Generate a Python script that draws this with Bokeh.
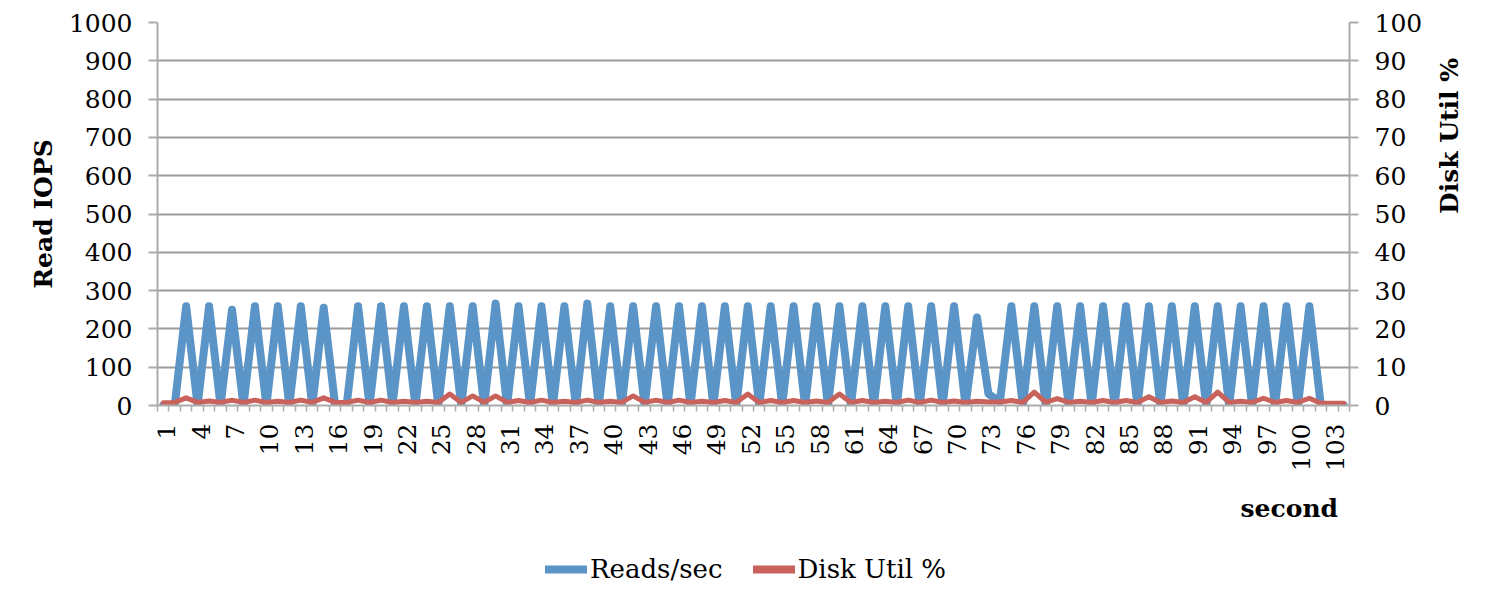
import math
from bokeh.plotting import figure
from bokeh.layouts import column
from bokeh.core.properties import value
from bokeh.models import (Range1d, LinearAxis, FixedTicker, Legend, LegendItem)
from bokeh.embed import file_html
from bokeh.resources import INLINE

seconds = list(range(1, 105))

reads_per_sec = [
    0, 0, 259, 0, 259, 0, 250, 0, 259, 0,          # 1-10
    259, 0, 259, 0, 255, 0, 0, 259, 0, 259,        # 11-20
    0, 259, 0, 259, 0, 259, 0, 259, 0, 266,        # 21-30
    0, 259, 0, 259, 0, 259, 0, 266, 0, 259,        # 31-40
    0, 259, 0, 259, 0, 259, 0, 259, 0, 259,        # 41-50
    0, 259, 0, 259, 0, 259, 0, 259, 0, 259,        # 51-60
    0, 259, 0, 259, 0, 259, 0, 259, 0, 259,        # 61-70
    0, 230, 30, 10, 259, 0, 259, 0, 259, 0,        # 71-80
    259, 0, 259, 0, 259, 0, 259, 0, 259, 0,        # 81-90
    259, 0, 259, 0, 259, 0, 259, 0, 259, 0,        # 91-100
    259, 0, 0, 0,                                  # 101-104
]

disk_util_pct = [
    0.7, 0.8, 2.0, 0.8, 1.2, 0.8, 1.4, 0.8, 1.4, 0.8,   # 1-10
    1.1, 0.8, 1.4, 0.8, 2.0, 0.8, 0.8, 1.4, 0.8, 1.4,   # 11-20
    0.8, 1.1, 0.8, 1.1, 0.8, 3.0, 0.8, 2.5, 0.8, 2.5,   # 21-30
    0.8, 1.3, 0.8, 1.4, 0.8, 1.1, 0.8, 1.4, 0.8, 1.1,   # 31-40
    0.8, 2.5, 0.8, 1.4, 0.8, 1.4, 0.8, 1.1, 0.8, 1.3,   # 41-50
    0.8, 3.0, 0.8, 1.3, 0.8, 1.3, 0.8, 1.2, 0.8, 3.0,   # 51-60
    0.8, 1.3, 0.8, 1.1, 0.8, 1.4, 0.8, 1.4, 0.8, 1.2,   # 61-70
    0.8, 1.1, 0.9, 0.9, 1.3, 0.8, 3.5, 0.8, 1.8, 0.8,   # 71-80
    1.1, 0.8, 1.3, 0.8, 1.3, 0.8, 2.3, 0.8, 1.2, 0.8,   # 81-90
    2.3, 0.8, 3.5, 0.8, 1.1, 0.8, 1.9, 0.8, 1.3, 0.8,   # 91-100
    1.9, 0.6, 0.6, 0.6,                                 # 101-104
]

x_tick_labels = list(range(1, 104, 3))
x_boundaries = [s - 0.5 for s in seconds] + [seconds[-1] + 0.5]
iops_ticks = list(range(0, 1001, 100))
util_ticks = list(range(0, 101, 10))

BLUE = "#5B94C7"
RED = "#C9625A"
GRID = "#9C9C9C"
AXIS = "#ABABAB"
FONT = "DejaVu Serif"

W = 1481
LEFT, RIGHT = 157, 131
FRAME_TOP, FRAME_BOTTOM = 22, 405
MAIN_H, STRIP_H, LEG_H = 421, 109, 54
STRIP_BOTTOM = MAIN_H + STRIP_H

x_range = Range1d(0.5, 104.5)

# ---------------- main chart ----------------
p = figure(width=W, height=MAIN_H, output_backend="svg", toolbar_location=None,
           x_range=x_range, y_range=Range1d(0, 1000),
           min_border_left=LEFT, min_border_right=RIGHT, min_border_top=FRAME_TOP,
           min_border_bottom=MAIN_H - FRAME_BOTTOM)
p.outline_line_color = None
p.background_fill_color = "white"

p.extra_y_ranges = {"util": Range1d(0, 100)}
right_axis = LinearAxis(y_range_name="util", ticker=FixedTicker(ticks=util_ticks))
p.add_layout(right_axis, "right")

p.xgrid.visible = False
p.ygrid.ticker = FixedTicker(ticks=iops_ticks)
p.ygrid.grid_line_color = GRID
p.ygrid.grid_line_width = 2

p.yaxis[0].ticker = FixedTicker(ticks=iops_ticks)
p.xaxis[0].ticker = FixedTicker(ticks=x_tick_labels, minor_ticks=x_boundaries)

for ax in [p.yaxis[0], right_axis]:
    ax.axis_line_color = AXIS
    ax.axis_line_width = 2
    ax.major_tick_line_color = AXIS
    ax.major_tick_line_width = 2
    ax.major_tick_out = 9
    ax.major_tick_in = 0
    ax.minor_tick_line_color = None
    ax.major_label_standoff = 16
    ax.major_label_text_font = FONT
    ax.major_label_text_font_size = "25px"
    ax.major_label_text_color = "black"
    ax.axis_label_text_font = FONT
    ax.axis_label_text_font_style = "bold"
    ax.axis_label_text_font_size = "25px"
    ax.axis_label_text_color = "black"

p.yaxis[0].axis_label = "Read IOPS"
p.yaxis[0].axis_label_standoff = 8
right_axis.axis_label = "Disk Util %"
right_axis.axis_label_standoff = 24
right_axis.axis_label_orientation = math.pi / 2

xa = p.xaxis[0]
xa.axis_line_color = AXIS
xa.axis_line_width = 2
xa.major_tick_out = 0
xa.major_tick_in = 0
xa.minor_tick_out = 6
xa.minor_tick_in = 0
xa.minor_tick_line_color = AXIS
xa.minor_tick_line_width = 1.5
xa.major_label_standoff = 0
xa.major_label_text_font_size = "0px"
xa.major_label_text_alpha = 0

p.line(seconds, reads_per_sec, line_color=BLUE, line_width=8,
       line_join="round", line_cap="round")
p.line(seconds, disk_util_pct, y_range_name="util", line_color=RED,
       line_width=5, line_join="round", line_cap="round")

# ---------------- category labels + axis title strip ----------------
strip = figure(width=W, height=STRIP_H, output_backend="svg", toolbar_location=None,
               x_range=x_range, y_range=Range1d(0, STRIP_H),
               x_axis_location=None, y_axis_location=None,
               min_border_left=LEFT, min_border_right=RIGHT,
               min_border_top=0, min_border_bottom=0)
strip.outline_line_color = None
strip.xgrid.visible = False
strip.ygrid.visible = False
label_end = STRIP_BOTTOM - 423          # labels end ~18px under the axis line
strip.text(x=x_tick_labels, y=[label_end] * len(x_tick_labels),
           text=[str(v) for v in x_tick_labels], angle=math.pi / 2,
           text_align="right", text_baseline="middle", x_offset=3,
           text_font=value(FONT), text_font_size=value("25px"), text_color="black")
strip.text(x=[103.5], y=[STRIP_BOTTOM - 508],
           text=["second"], text_align="right", text_baseline="middle",
           text_font=value(FONT), text_font_style="bold",
           text_font_size=value("25px"), text_color="black")

# ---------------- legend strip ----------------
lg = figure(width=W, height=LEG_H, output_backend="svg", toolbar_location=None,
            x_range=Range1d(0.5, 104.5), y_range=Range1d(-3000, -2000),
            x_axis_location=None, y_axis_location=None,
            min_border_left=LEFT, min_border_right=RIGHT,
            min_border_top=0, min_border_bottom=0)
lg.outline_line_color = None
lg.xgrid.visible = False
lg.ygrid.visible = False
# same series, drawn outside this strip's visible range: only their legend keys show
k_reads = lg.line(seconds, reads_per_sec, line_color=BLUE, line_width=8, line_cap="round")
k_util = lg.line(seconds, disk_util_pct, line_color=RED, line_width=8, line_cap="round")
legend = Legend(items=[LegendItem(label="Reads/sec", renderers=[k_reads]),
                       LegendItem(label="Disk Util %", renderers=[k_util])],
                orientation="horizontal", location=(388, 0),
                glyph_width=42, glyph_height=26, label_standoff=3, spacing=30,
                padding=3, margin=0, border_line_color=None,
                background_fill_alpha=0,
                label_text_font=FONT,
                label_text_font_size="26px", label_text_color="black")
lg.add_layout(legend)

layout = column(p, strip, lg, spacing=0)
open("out.html", "w").write(file_html(layout, INLINE))
